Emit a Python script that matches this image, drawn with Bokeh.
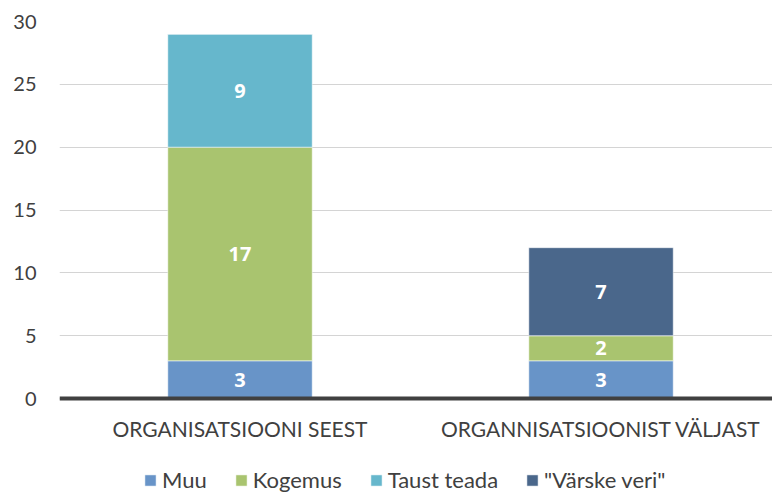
from bokeh.plotting import figure
from bokeh.models import Range1d, FixedTicker, Legend, LegendItem, ColumnDataSource, LabelSet
from bokeh.core.properties import value
from bokeh.embed import file_html
from bokeh.resources import INLINE

categories = ["ORGANISATSIOONI SEEST", "ORGANNISATSIOONIST VÄLJAST"]
series = ["Muu", "Kogemus", "Taust teada", "\"Värske veri\""]
muu = [3, 3]
kogemus = [17, 2]
taust = [9, 0]
varske = [0, 7]
colors = ["#6894c8", "#a9c46f", "#66b7cc", "#4a678b"]
y_ticks = [0, 5, 10, 15, 20, 25, 30]

xs = [i + 0.5 for i in range(len(categories))]
keys = ["muu", "kogemus", "taust", "varske"]
data = dict(x=xs, muu=muu, kogemus=kogemus, taust=taust, varske=varske)
src = ColumnDataSource(data)

FONT = "Lato"
BOLD = "Open Sans"

p = figure(width=772, height=492, output_backend="svg", toolbar_location=None,
           x_range=Range1d(0, 1.975), y_range=Range1d(-7.48, 30),
           min_border_left=59, min_border_right=0, min_border_top=21, min_border_bottom=0)
p.outline_line_color = None

renderers = p.vbar_stack(keys, x="x", width=0.4, source=src, fill_color=colors,
                         line_color="white", line_alpha=0.5, line_width=1)

# segment labels
lx, ly, lt = [], [], []
for i, x in enumerate(xs):
    base = 0
    for arr in (muu, kogemus, taust, varske):
        v = arr[i]
        if v > 0:
            lx.append(x)
            ly.append(base + v / 2)
            lt.append(str(v))
        base += v
lsrc = ColumnDataSource(dict(x=lx, y=ly, t=lt))
labels = LabelSet(x="x", y="y", text="t", source=lsrc,
                  text_align=value("center"), text_baseline=value("middle"),
                  text_color=value("white"), text_font=value(BOLD),
                  text_font_style=value("bold"), text_font_size=value("20px"))
p.add_layout(labels)

# axes
p.xaxis.fixed_location = 0
p.xaxis.ticker = FixedTicker(ticks=xs)
p.xaxis.major_label_overrides = {x: c for x, c in zip(xs, categories)}
p.xaxis.major_tick_line_color = None
p.xaxis.major_tick_out = 0
p.xaxis.minor_tick_line_color = None
p.xaxis.minor_tick_out = 0
p.xaxis.axis_line_color = "#404040"
p.xaxis.axis_line_width = 4
p.xaxis.major_label_text_font = FONT
p.xaxis.major_label_text_font_size = "21px"
p.xaxis.major_label_text_color = "#404040"
p.xaxis.major_label_standoff = 17

p.yaxis.ticker = FixedTicker(ticks=y_ticks)
p.yaxis.axis_line_color = None
p.yaxis.major_tick_line_color = None
p.yaxis.major_tick_out = 0
p.yaxis.minor_tick_line_color = None
p.yaxis.minor_tick_out = 0
p.yaxis.major_label_text_font = FONT
p.yaxis.major_label_text_font_size = "20px"
p.yaxis.major_label_text_color = "#404040"
p.yaxis.major_label_standoff = 23

p.xgrid.grid_line_color = None
p.ygrid.ticker = FixedTicker(ticks=y_ticks)
p.ygrid.grid_line_color = "#d4d4d4"
p.ygrid.grid_line_width = 1

items = [LegendItem(label=s, renderers=[r]) for s, r in zip(series, renderers)]
legend = Legend(items=items, orientation="horizontal", location=(84, -1),
                glyph_width=14, glyph_height=14, label_standoff=5, spacing=27,
                padding=0, margin=0, border_line_color=None, background_fill_alpha=0,
                label_text_font=FONT, label_text_font_size="22px", label_text_color="#404040")
p.add_layout(legend, "center")

open("out.html", "w").write(file_html(p, INLINE))
